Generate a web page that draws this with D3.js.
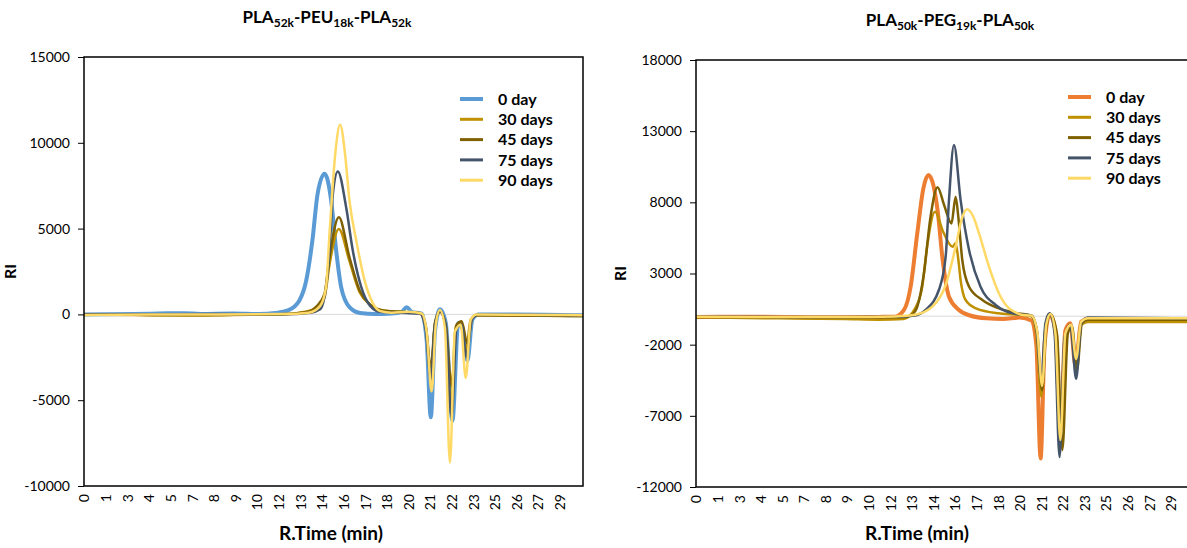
<!DOCTYPE html>
<html>
<head>
<meta charset="utf-8">
<script src="https://cdn.jsdelivr.net/npm/d3@7/dist/d3.min.js"></script>
<style>
  body { margin: 0; background: #fff; }
  svg text { font-family: Lato, "Open Sans", sans-serif; fill: #000; }
  .tick text { font-size: 14px; }
  .bold { font-weight: bold; }
</style>
</head>
<body>
<div id="chart"></div>
<script>
// series names and colors
var seriesNames = ["0 day", "30 days", "45 days", "75 days", "90 days"];
var leftColors = ["#5b9bd5", "#bf9000", "#7f6000", "#44546a", "#ffd966"];
var rightColors = ["#ed7d31", "#bf9000", "#7f6000", "#44546a", "#ffd966"];

// x tick positions (Excel category labels every 1.3 min, rounded)
var timeTicks = [0, 1.3, 2.6, 3.9, 5.2, 6.5, 7.8, 9.1, 10.4, 11.7, 13.0, 14.3, 15.6,
  16.9, 18.2, 19.5, 20.8, 22.1, 23.4, 24.7, 26.0, 27.3, 28.6];
var timeLabels = [0, 1, 3, 4, 5, 7, 8, 9, 10, 12, 13, 14, 16, 17, 18, 20, 21, 22, 23, 25, 26, 27, 29];

var leftYTicks = [-10000, -5000, 0, 5000, 10000, 15000];
var rightYTicks = [-12000, -7000, -2000, 3000, 8000, 13000, 18000];

// ---------- PLA52k-PEU18k-PLA52k : [time (min), RI] ----------
var peu0 = [[0,0],[3,20],[5,60],[6,70],[7,30],[9,50],[10.5,20],[11.5,80],[12.3,250],[12.95,814],
  [13.36,1977],[13.73,4300],[14.04,7000],[14.46,8200],[14.86,6630],[15.16,3720],[15.46,1590],
  [15.96,420],[16.6,80],[17.5,20],[18.5,50],[19.1,150],[19.4,420],[19.7,150],[20.3,50],
  [20.6,-1500],[20.85,-6000],[21.1,-1000],[21.4,300],[21.75,-500],[22.15,-6200],[22.5,-500],
  [22.75,-800],[23.05,-2700],[23.35,-300],[23.7,0],[26,0],[30,-50]];
var peu30 = [[0,0],[3,-40],[6,-60],[9,-30],[12,0],[13.3,150],[13.96,400],[14.46,1000],[14.76,2900],
  [15.32,4980],[15.96,3100],[16.57,1300],[17.17,600],[17.9,250],[19,150],[20.2,50],[20.55,-800],
  [20.85,-3600],[21.1,-500],[21.4,150],[21.75,-700],[22.05,-5500],[22.35,-700],[22.65,-500],
  [22.95,-2200],[23.25,-300],[23.6,-50],[30,-100]];
var peu45 = [[0,0],[3,-20],[6,-40],[9,-20],[12,20],[13.5,150],[13.96,450],[14.46,1200],[14.76,3330],
  [15.32,5660],[15.96,3330],[16.57,1400],[17.17,600],[17.9,250],[19,150],[20.2,80],[20.55,-700],
  [20.85,-3140],[21.1,-500],[21.4,150],[21.75,-600],[22.1,-4190],[22.4,-600],[22.7,-400],
  [23.05,-1700],[23.35,-200],[23.7,-50],[30,-100]];
var peu75 = [[0,0],[4,10],[8,20],[12,10],[13.6,100],[14.2,300],[14.55,1590],[14.76,3720],[14.96,7000],
  [15.26,8330],[15.76,6240],[16.16,3720],[16.67,1590],[17.17,540],[17.8,150],[19,100],[20.2,50],
  [20.55,-900],[20.85,-3800],[21.1,-600],[21.4,200],[21.75,-700],[22.1,-6000],[22.4,-800],
  [22.7,-600],[23.0,-2500],[23.3,-300],[23.7,0],[30,-50]];
var peu90 = [[0,-30],[4,-10],[8,0],[12,20],[13.5,100],[14.2,500],[14.55,1590],[14.76,4700],[15.1,9300],
  [15.4,11050],[15.7,9300],[15.96,6630],[16.37,4300],[16.87,1980],[17.37,640],[17.8,200],[18.5,100],
  [19.5,150],[20.3,50],[20.6,-1000],[20.9,-4500],[21.15,-600],[21.4,250],[21.7,-800],[22.0,-8640],
  [22.3,-1000],[22.65,-600],[22.95,-3700],[23.25,-300],[23.6,0],[30,-50]];

// ---------- PLA50k-PEG19k-PLA50k : [time (min), RI] ----------
var peg0 = [[0,-50],[4,-30],[8,-80],[11,-50],[12,-30],[12.53,440],[12.93,2070],[13.33,5820],[13.7,9000],
  [14.0,9920],[14.3,9200],[14.55,7460],[14.86,3950],[15.24,1370],[15.84,440],[16.5,50],[17.5,-150],
  [18.5,-200],[19.5,-100],[20.2,-300],[20.5,-2000],[20.76,-9990],[21.0,-2000],[21.3,100],[21.65,-1000],
  [21.95,-8000],[22.25,-1000],[22.55,-500],[22.86,-3500],[23.2,-400],[23.6,-200],[30,-200]];
var peg30 = [[0,-80],[5,-150],[9,-200],[11,-250],[12.5,-200],[13.2,550],[13.63,2070],[13.92,4880],
  [14.4,7340],[14.9,5900],[15.45,4880],[15.64,5120],[15.8,4000],[15.94,2540],[16.24,1140],[16.87,550],
  [18.2,200],[19.5,100],[20.2,0],[20.5,-1200],[20.8,-5650],[21.05,-800],[21.3,150],[21.65,-1200],
  [22.0,-8000],[22.3,-1200],[22.6,-700],[22.9,-3900],[23.2,-600],[23.6,-400],[30,-400]];
var peg45 = [[0,-50],[5,-80],[9,-100],[12,-80],[12.5,-80],[13.0,100],[13.33,670],[13.73,3010],[14.13,6990],
  [14.55,9060],[14.95,7800],[15.39,6520],[15.64,8400],[15.8,7000],[16.04,3950],[16.45,2070],[17.25,1140],
  [18.25,550],[19.4,200],[20.2,50],[20.55,-1100],[20.85,-5200],[21.1,-800],[21.35,150],[21.75,-1300],
  [22.07,-9400],[22.4,-1200],[22.65,-700],[22.95,-3800],[23.25,-500],[23.6,-250],[30,-250]];
var peg75 = [[0,-30],[5,-50],[9,-60],[12,-40],[13.2,50],[13.83,440],[14.63,1840],[15.04,4180],[15.24,8160],
  [15.54,12030],[15.94,8160],[16.45,4650],[17.14,2070],[18.05,790],[19.1,200],[20.2,50],[20.5,-800],
  [20.8,-4500],[21.05,-500],[21.3,200],[21.6,-1200],[21.9,-9900],[22.2,-1500],[22.55,-600],[22.9,-4400],
  [23.2,-500],[23.6,-100],[30,-150]];
var peg90 = [[0,-40],[5,-60],[9,-60],[12,-20],[12.5,20],[13.2,100],[14.24,670],[15.04,2190],[15.64,4880],
  [16.0,6800],[16.34,7510],[16.7,7000],[17.05,5820],[17.65,3480],[18.25,1600],[18.86,550],[19.2,300],
  [19.6,100],[20.2,50],[20.55,-1000],[20.85,-4900],[21.1,-600],[21.35,150],[21.65,-1200],[21.95,-8700],
  [22.25,-1200],[22.6,-600],[22.9,-3000],[23.2,-400],[23.6,-150],[30,-150]];

var svgWidth = 1187;
var svgHeight = 548;

var svg = d3.select("#chart")
  .append("svg")
  .attr("width", svgWidth)
  .attr("height", svgHeight);

function drawPanel(opt) {
  var x = d3.scaleLinear().domain([0, 30]).range([opt.left, opt.right]);
  var y = d3.scaleLinear().domain(opt.yDomain).range([opt.bottom, opt.top]);

  var g = svg.append("g");

  // zero line
  g.append("line")
    .attr("x1", opt.left).attr("x2", opt.right)
    .attr("y1", y(0)).attr("y2", y(0))
    .attr("stroke", "#d9d9d9").attr("stroke-width", 1);

  // y axis
  var yAxis = g.append("g")
    .attr("transform", `translate(${opt.left},0)`)
    .call(d3.axisLeft(y).tickValues(opt.yTicks).tickSize(6).tickPadding(8).tickFormat(d => String(d)));
  yAxis.select(".domain").remove();
  yAxis.selectAll(".tick line").attr("stroke", "#000");

  // x axis (labels only)
  var xAxis = g.append("g")
    .attr("transform", `translate(0,${opt.bottom})`)
    .call(d3.axisBottom(x).tickValues(timeTicks).tickSize(0)
      .tickFormat((d, i) => timeLabels[i]));
  xAxis.select(".domain").remove();
  xAxis.selectAll(".tick text")
    .attr("transform", "rotate(-90)")
    .attr("text-anchor", "end")
    .attr("x", -8)
    .attr("y", 0)
    .attr("dy", "0.35em");

  // clip
  var clipId = "clip" + opt.id;
  svg.append("clipPath").attr("id", clipId)
    .append("rect")
    .attr("x", opt.left).attr("y", opt.top)
    .attr("width", opt.right - opt.left).attr("height", opt.bottom - opt.top);

  var line = d3.line()
    .x(d => x(d[0]))
    .y(d => y(d[1]))
    .curve(d3.curveMonotoneX);

  var lines = g.append("g").attr("clip-path", `url(#${clipId})`);
  opt.series.forEach(function(s, i) {
    lines.append("path")
      .datum(s)
      .attr("fill", "none")
      .attr("stroke", opt.colors[i])
      .attr("stroke-width", i === 0 ? 4 : 2.5)
      .attr("stroke-linejoin", "round")
      .attr("d", line);
  });

  // frame
  g.append("rect")
    .attr("x", opt.left).attr("y", opt.top)
    .attr("width", opt.right - opt.left).attr("height", opt.bottom - opt.top)
    .attr("fill", "none").attr("stroke", "#000").attr("stroke-width", 1.5);

  // title
  var t = g.append("text")
    .attr("class", "bold")
    .attr("x", opt.titleX).attr("y", opt.titleY)
    .attr("text-anchor", "middle")
    .style("font-size", "17px");
  opt.title.forEach(function(part) {
    if (part.sub) {
      t.append("tspan").attr("dy", 4).style("font-size", "12px").text(part.text);
    } else {
      t.append("tspan").attr("dy", part.first ? 0 : -4).text(part.text);
    }
  });

  // axis titles
  g.append("text")
    .attr("class", "bold")
    .attr("transform", `translate(${opt.yLabelX},${(opt.top + opt.bottom) / 2}) rotate(-90)`)
    .attr("text-anchor", "middle")
    .style("font-size", "16px")
    .text("RI");

  g.append("text")
    .attr("class", "bold")
    .attr("x", opt.xLabelX).attr("y", 540)
    .attr("text-anchor", "middle")
    .style("font-size", "19px")
    .text("R.Time (min)");

  // legend
  var leg = g.append("g");
  seriesNames.forEach(function(name, i) {
    var ly = opt.legendY + i * 20.3;
    leg.append("line")
      .attr("x1", opt.legendX).attr("x2", opt.legendX + 23)
      .attr("y1", ly).attr("y2", ly)
      .attr("stroke", opt.colors[i])
      .attr("stroke-width", i === 0 ? 4 : 3);
    leg.append("text")
      .attr("class", "bold")
      .attr("x", opt.legendX + 38).attr("y", ly)
      .attr("dy", "0.35em")
      .style("font-size", "16px")
      .text(name);
  });
}

drawPanel({
  id: "L",
  left: 84, right: 583, top: 57, bottom: 486,
  yDomain: [-10000, 15000], yTicks: leftYTicks,
  series: [peu0, peu30, peu45, peu75, peu90],
  colors: leftColors,
  title: [{text: "PLA", first: true}, {text: "52k", sub: true}, {text: "-PEU"}, {text: "18k", sub: true},
    {text: "-PLA"}, {text: "52k", sub: true}],
  titleX: 327, titleY: 23,
  yLabelX: 16, xLabelX: 331,
  legendX: 460, legendY: 99
});

drawPanel({
  id: "R",
  left: 696, right: 1194, top: 60, bottom: 487,
  yDomain: [-12000, 18000], yTicks: rightYTicks,
  series: [peg0, peg30, peg45, peg75, peg90],
  colors: rightColors,
  title: [{text: "PLA", first: true}, {text: "50k", sub: true}, {text: "-PEG"}, {text: "19k", sub: true},
    {text: "-PLA"}, {text: "50k", sub: true}],
  titleX: 950, titleY: 26,
  yLabelX: 626, xLabelX: 917,
  legendX: 1068, legendY: 97
});
</script>
</body>
</html>
